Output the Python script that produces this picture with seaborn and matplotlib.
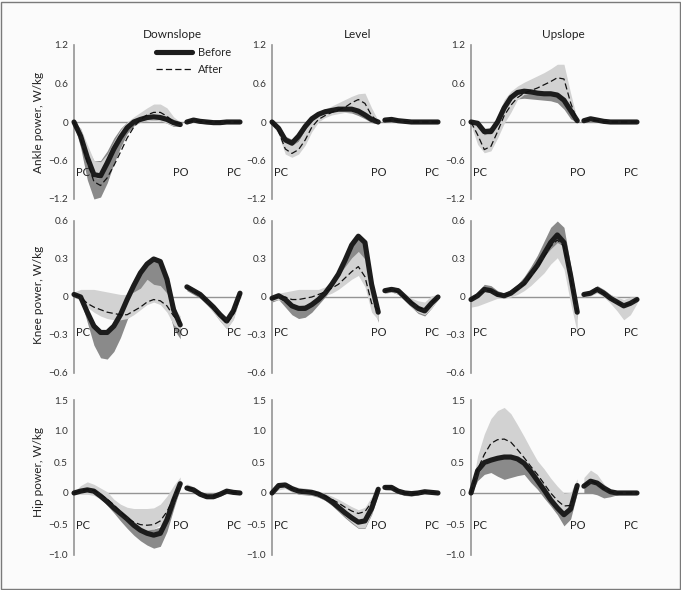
import matplotlib
matplotlib.use("Agg")
import matplotlib.pyplot as plt
from matplotlib.lines import Line2D
from matplotlib.patches import Rectangle
import seaborn as sns

# gait cycle (% of stride): stance up to push-off, then swing
stance_pct = [0, 4, 8, 12, 16, 20, 24, 28, 32, 36, 40, 44, 48, 52, 56, 60, 64]
swing_pct = [68, 72, 76, 80, 84, 88, 92, 96, 100]

slopes = ["Downslope", "Level", "Upslope"]
joints = ["Ankle power, W/kg", "Knee power, W/kg", "Hip power, W/kg"]

# --- ankle ---
ankle_down_before = [0.0, -0.22, -0.55, -0.82, -0.84, -0.64, -0.42, -0.24, -0.09, 0.0, 0.04, 0.07, 0.08, 0.07, 0.04, -0.01, -0.04,
                     0.0, 0.03, 0.01, 0.0, -0.01, -0.01, 0.0, 0.0, 0.0]
ankle_down_before_lo = [-0.02, -0.4, -0.9, -1.2, -1.17, -0.95, -0.65, -0.4, -0.18, -0.06, 0.0, 0.02, 0.03, 0.02, -0.02, -0.07, -0.07,
                        -0.03, 0.0, -0.02, -0.03, -0.03, -0.03, -0.02, -0.02, -0.02]
ankle_down_before_hi = [0.0, -0.1, -0.4, -0.6, -0.6, -0.45, -0.25, -0.1, 0.0, 0.05, 0.08, 0.1, 0.1, 0.1, 0.07, 0.02, -0.02,
                        0.02, 0.05, 0.03, 0.02, 0.01, 0.01, 0.01, 0.01, 0.01]
ankle_down_after = [0.0, -0.25, -0.62, -0.93, -0.99, -0.87, -0.68, -0.47, -0.25, -0.08, 0.04, 0.11, 0.15, 0.15, 0.09, 0.0, -0.03,
                    0.0, 0.02, 0.01, 0.0, 0.0, 0.0, 0.0, 0.0, 0.0]
ankle_down_after_lo = [-0.02, -0.25, -0.58, -0.86, -0.88, -0.68, -0.46, -0.28, -0.12, -0.03, 0.0, 0.02, 0.03, 0.02, -0.02, -0.06, -0.06,
                       -0.02, 0.0, -0.01, -0.02, -0.02, -0.02, -0.01, -0.01, -0.01]
ankle_down_after_hi = [0.0, -0.1, -0.35, -0.6, -0.62, -0.5, -0.3, -0.12, 0.0, 0.08, 0.15, 0.22, 0.28, 0.28, 0.22, 0.08, 0.0,
                       0.02, 0.04, 0.03, 0.02, 0.01, 0.01, 0.01, 0.01, 0.01]

ankle_level_before = [0.0, -0.1, -0.28, -0.33, -0.22, -0.07, 0.05, 0.12, 0.16, 0.18, 0.2, 0.2, 0.2, 0.17, 0.11, 0.04, 0.0,
                      0.03, 0.04, 0.02, 0.01, 0.0, 0.0, 0.0, 0.0, 0.0]
ankle_level_before_lo = [-0.02, -0.15, -0.35, -0.42, -0.3, -0.13, 0.0, 0.08, 0.12, 0.14, 0.15, 0.15, 0.14, 0.1, 0.05, -0.01, -0.03,
                         0.0, 0.01, 0.0, -0.01, -0.02, -0.02, -0.01, -0.01, -0.01]
ankle_level_before_hi = [0.0, -0.05, -0.22, -0.27, -0.16, -0.02, 0.08, 0.15, 0.19, 0.21, 0.23, 0.23, 0.23, 0.2, 0.14, 0.06, 0.01,
                         0.05, 0.06, 0.04, 0.03, 0.02, 0.01, 0.01, 0.01, 0.01]
ankle_level_after = [0.0, -0.15, -0.42, -0.49, -0.43, -0.28, -0.08, 0.04, 0.1, 0.15, 0.19, 0.23, 0.3, 0.35, 0.29, 0.1, 0.0,
                     0.02, 0.03, 0.02, 0.01, 0.0, 0.0, 0.0, 0.0, 0.0]
ankle_level_after_lo = [-0.02, -0.2, -0.5, -0.55, -0.5, -0.36, -0.15, 0.0, 0.07, 0.11, 0.13, 0.15, 0.16, 0.15, 0.1, 0.0, -0.02,
                        0.0, 0.01, 0.0, -0.01, -0.02, -0.02, -0.01, -0.01, -0.01]
ankle_level_after_hi = [0.0, -0.05, -0.3, -0.36, -0.3, -0.12, 0.05, 0.13, 0.2, 0.25, 0.3, 0.35, 0.4, 0.44, 0.45, 0.22, 0.02,
                        0.05, 0.06, 0.04, 0.03, 0.02, 0.01, 0.01, 0.01, 0.01]

ankle_up_before = [0.0, -0.02, -0.15, -0.15, 0.0, 0.22, 0.38, 0.46, 0.48, 0.47, 0.45, 0.44, 0.44, 0.42, 0.34, 0.18, 0.02,
                   0.02, 0.05, 0.03, 0.01, 0.0, 0.0, 0.0, 0.0, 0.0]
ankle_up_before_lo = [-0.02, -0.08, -0.25, -0.25, -0.08, 0.15, 0.3, 0.36, 0.37, 0.36, 0.35, 0.34, 0.33, 0.3, 0.2, 0.05, -0.01,
                      0.0, 0.02, 0.0, -0.01, -0.02, -0.02, -0.01, -0.01, -0.01]
ankle_up_before_hi = [0.0, 0.0, -0.1, -0.08, 0.06, 0.25, 0.4, 0.48, 0.5, 0.5, 0.48, 0.47, 0.47, 0.45, 0.38, 0.22, 0.04,
                      0.04, 0.07, 0.05, 0.03, 0.02, 0.01, 0.01, 0.01, 0.01]
ankle_up_after = [0.0, -0.2, -0.43, -0.38, -0.15, 0.1, 0.26, 0.38, 0.45, 0.49, 0.53, 0.58, 0.63, 0.69, 0.67, 0.3, 0.02,
                  0.02, 0.04, 0.02, 0.01, 0.0, 0.0, 0.0, 0.0, 0.0]
ankle_up_after_lo = [-0.05, -0.35, -0.48, -0.45, -0.25, -0.02, 0.15, 0.35, 0.43, 0.45, 0.45, 0.44, 0.44, 0.42, 0.34, 0.12, 0.0,
                     0.0, 0.02, 0.0, -0.01, -0.02, -0.02, -0.01, -0.01, -0.01]
ankle_up_after_hi = [0.0, -0.05, -0.2, -0.15, 0.1, 0.35, 0.48, 0.56, 0.62, 0.67, 0.72, 0.77, 0.83, 0.9, 0.9, 0.45, 0.04,
                     0.04, 0.07, 0.05, 0.03, 0.02, 0.01, 0.01, 0.01, 0.01]

# --- knee ---
knee_down_before = [0.02, 0.0, -0.12, -0.23, -0.28, -0.28, -0.23, -0.14, -0.02, 0.09, 0.19, 0.26, 0.3, 0.28, 0.14, -0.1, -0.22,
                    0.08, 0.05, 0.02, -0.03, -0.08, -0.14, -0.19, -0.11, 0.03]
knee_down_before_lo = [0.0, -0.02, -0.2, -0.38, -0.48, -0.49, -0.43, -0.32, -0.18, -0.05, 0.03, 0.08, 0.08, 0.05, -0.05, -0.25, -0.33,
                       0.05, 0.02, -0.01, -0.06, -0.12, -0.19, -0.25, -0.17, 0.0]
knee_down_before_hi = [0.03, 0.02, -0.1, -0.2, -0.26, -0.26, -0.2, -0.1, 0.02, 0.12, 0.22, 0.29, 0.32, 0.3, 0.17, -0.06, -0.18,
                       0.1, 0.07, 0.04, -0.01, -0.06, -0.12, -0.17, -0.09, 0.05]
knee_down_after = [0.02, 0.0, -0.05, -0.08, -0.1, -0.12, -0.13, -0.14, -0.14, -0.11, -0.08, -0.04, -0.02, -0.03, -0.07, -0.15, -0.2,
                   0.08, 0.05, 0.02, -0.03, -0.09, -0.15, -0.21, -0.14, 0.02]
knee_down_after_lo = [0.0, -0.03, -0.08, -0.12, -0.15, -0.17, -0.18, -0.18, -0.17, -0.14, -0.1, -0.06, -0.04, -0.06, -0.12, -0.22, -0.26,
                      0.06, 0.03, 0.0, -0.06, -0.12, -0.19, -0.25, -0.18, 0.0]
knee_down_after_hi = [0.04, 0.06, 0.06, 0.06, 0.05, 0.04, 0.03, 0.02, 0.02, 0.04, 0.07, 0.14, 0.1, 0.09, 0.03, -0.08, -0.15,
                      0.1, 0.07, 0.04, -0.01, -0.06, -0.11, -0.16, -0.08, 0.05]

knee_level_before = [-0.01, 0.01, -0.02, -0.07, -0.09, -0.09, -0.06, -0.02, 0.03, 0.1, 0.18, 0.29, 0.41, 0.48, 0.43, 0.1, -0.12,
                     0.05, 0.06, 0.05, 0.0, -0.05, -0.09, -0.11, -0.05, 0.0]
knee_level_before_lo = [-0.04, -0.02, -0.08, -0.14, -0.17, -0.16, -0.12, -0.06, 0.0, 0.06, 0.13, 0.2, 0.28, 0.32, 0.3, -0.02, -0.2,
                        0.03, 0.04, 0.02, -0.03, -0.08, -0.13, -0.15, -0.09, -0.02]
knee_level_before_hi = [0.0, 0.02, 0.0, -0.04, -0.06, -0.06, -0.03, 0.01, 0.06, 0.13, 0.22, 0.33, 0.45, 0.5, 0.45, 0.14, -0.08,
                        0.07, 0.08, 0.07, 0.02, -0.03, -0.07, -0.08, -0.03, 0.01]
knee_level_after = [-0.01, 0.0, 0.0, -0.02, -0.02, -0.01, 0.0, 0.02, 0.04, 0.07, 0.1, 0.15, 0.2, 0.24, 0.16, -0.05, -0.1,
                    0.05, 0.06, 0.04, 0.0, -0.04, -0.08, -0.1, -0.05, 0.0]
knee_level_after_lo = [-0.03, -0.02, -0.04, -0.06, -0.07, -0.06, -0.04, -0.01, 0.01, 0.03, 0.06, 0.1, 0.14, 0.17, 0.08, -0.12, -0.18,
                       0.03, 0.04, 0.02, -0.03, -0.08, -0.12, -0.14, -0.09, -0.02]
knee_level_after_hi = [0.01, 0.03, 0.04, 0.05, 0.06, 0.06, 0.06, 0.06, 0.08, 0.12, 0.17, 0.24, 0.31, 0.36, 0.3, 0.05, -0.06,
                       0.07, 0.08, 0.07, 0.03, -0.01, -0.03, -0.04, 0.01, 0.02]

knee_up_before = [-0.02, 0.01, 0.06, 0.05, 0.02, 0.01, 0.03, 0.07, 0.11, 0.18, 0.25, 0.34, 0.43, 0.49, 0.43, 0.17, -0.12,
                  0.02, 0.03, 0.06, 0.03, -0.01, -0.04, -0.07, -0.05, -0.02]
knee_up_before_lo = [-0.05, -0.02, 0.02, 0.02, 0.0, -0.01, 0.01, 0.04, 0.08, 0.14, 0.2, 0.28, 0.36, 0.42, 0.35, 0.1, -0.18,
                     0.0, 0.01, 0.04, 0.01, -0.03, -0.07, -0.1, -0.08, -0.04]
knee_up_before_hi = [0.0, 0.04, 0.1, 0.09, 0.05, 0.03, 0.06, 0.1, 0.16, 0.24, 0.33, 0.44, 0.55, 0.6, 0.55, 0.25, -0.05,
                     0.04, 0.05, 0.09, 0.06, 0.02, -0.01, -0.03, -0.02, 0.0]
knee_up_after = [-0.02, 0.02, 0.05, 0.05, 0.02, 0.01, 0.03, 0.06, 0.1, 0.16, 0.23, 0.32, 0.4, 0.45, 0.4, 0.15, -0.12,
                 0.02, 0.03, 0.06, 0.03, -0.01, -0.04, -0.07, -0.05, -0.02]
knee_up_after_lo = [-0.08, -0.07, -0.05, -0.03, -0.01, -0.01, 0.0, 0.02, 0.05, 0.09, 0.14, 0.19, 0.26, 0.31, 0.22, -0.05, -0.28,
                    0.0, 0.01, 0.03, 0.0, -0.05, -0.11, -0.18, -0.14, -0.05]
knee_up_after_hi = [0.0, 0.04, 0.08, 0.07, 0.04, 0.03, 0.05, 0.09, 0.13, 0.18, 0.25, 0.32, 0.38, 0.43, 0.4, 0.16, -0.06,
                    0.04, 0.05, 0.08, 0.05, 0.02, 0.0, -0.02, 0.0, 0.0]

# --- hip ---
hip_down_before = [0.0, 0.03, 0.05, 0.03, -0.05, -0.14, -0.24, -0.33, -0.42, -0.52, -0.6, -0.65, -0.68, -0.65, -0.43, -0.12, 0.15,
                   0.08, 0.05, -0.02, -0.06, -0.06, -0.02, 0.03, 0.01, 0.0]
hip_down_before_lo = [-0.02, 0.0, 0.02, -0.01, -0.09, -0.2, -0.32, -0.45, -0.57, -0.68, -0.77, -0.84, -0.89, -0.86, -0.62, -0.26, 0.08,
                      0.04, 0.01, -0.05, -0.09, -0.09, -0.05, 0.0, -0.01, -0.02]
hip_down_before_hi = [0.02, 0.05, 0.07, 0.05, -0.02, -0.1, -0.2, -0.28, -0.36, -0.45, -0.52, -0.56, -0.58, -0.55, -0.35, -0.05, 0.2,
                      0.11, 0.08, 0.01, -0.03, -0.03, 0.01, 0.05, 0.03, 0.02]
hip_down_after = [0.0, 0.04, 0.06, 0.04, -0.02, -0.1, -0.19, -0.3, -0.4, -0.47, -0.51, -0.52, -0.51, -0.45, -0.3, -0.08, 0.15,
                  0.1, 0.06, 0.0, -0.05, -0.05, -0.02, 0.03, 0.01, 0.0]
hip_down_after_lo = [-0.02, -0.02, -0.02, -0.04, -0.1, -0.18, -0.26, -0.38, -0.47, -0.55, -0.58, -0.6, -0.58, -0.52, -0.4, -0.2, 0.05,
                     0.05, 0.02, -0.04, -0.08, -0.08, -0.05, 0.0, -0.01, -0.02]
hip_down_after_hi = [0.02, 0.12, 0.18, 0.14, 0.08, 0.02, -0.1, -0.18, -0.23, -0.25, -0.25, -0.25, -0.24, -0.18, -0.05, 0.12, 0.26,
                     0.15, 0.1, 0.03, -0.02, -0.02, 0.02, 0.06, 0.03, 0.02]

hip_level_before = [0.0, 0.12, 0.13, 0.07, 0.03, 0.02, 0.01, -0.02, -0.07, -0.14, -0.23, -0.32, -0.4, -0.47, -0.45, -0.25, 0.06,
                    0.09, 0.09, 0.03, 0.0, -0.01, 0.0, 0.02, 0.01, 0.0]
hip_level_before_lo = [-0.02, 0.07, 0.08, 0.02, -0.02, -0.03, -0.04, -0.07, -0.12, -0.2, -0.3, -0.4, -0.49, -0.57, -0.57, -0.35, -0.02,
                       0.05, 0.04, -0.01, -0.04, -0.05, -0.03, 0.0, -0.01, -0.02]
hip_level_before_hi = [0.02, 0.15, 0.16, 0.1, 0.06, 0.05, 0.04, 0.01, -0.04, -0.1, -0.18, -0.26, -0.34, -0.41, -0.39, -0.2, 0.1,
                       0.12, 0.12, 0.06, 0.02, 0.01, 0.02, 0.04, 0.03, 0.02]
hip_level_after = [0.0, 0.11, 0.12, 0.07, 0.04, 0.03, 0.02, 0.0, -0.05, -0.1, -0.16, -0.23, -0.29, -0.33, -0.3, -0.15, 0.06,
                   0.1, 0.09, 0.03, 0.0, -0.01, 0.0, 0.02, 0.01, 0.0]
hip_level_after_lo = [-0.02, 0.05, 0.07, 0.02, -0.01, -0.02, -0.03, -0.06, -0.11, -0.18, -0.28, -0.38, -0.47, -0.56, -0.56, -0.33, 0.0,
                      0.05, 0.05, 0.0, -0.03, -0.04, -0.03, 0.0, -0.01, -0.02]
hip_level_after_hi = [0.02, 0.16, 0.17, 0.12, 0.09, 0.08, 0.06, 0.03, -0.01, -0.05, -0.1, -0.16, -0.22, -0.27, -0.23, -0.06, 0.12,
                      0.14, 0.14, 0.07, 0.03, 0.02, 0.03, 0.05, 0.03, 0.02]

hip_up_before = [0.0, 0.36, 0.49, 0.53, 0.56, 0.58, 0.58, 0.55, 0.48, 0.35, 0.2, 0.05, -0.11, -0.24, -0.35, -0.26, 0.12,
                 0.11, 0.19, 0.16, 0.08, 0.02, 0.0, 0.0, 0.0, 0.0]
hip_up_before_lo = [-0.02, 0.2, 0.3, 0.33, 0.27, 0.22, 0.25, 0.28, 0.3, 0.17, 0.06, -0.08, -0.21, -0.35, -0.53, -0.42, 0.0,
                    0.0, 0.0, -0.03, -0.08, -0.06, -0.03, -0.01, -0.01, -0.01]
hip_up_before_hi = [0.02, 0.4, 0.53, 0.56, 0.58, 0.6, 0.6, 0.57, 0.5, 0.38, 0.22, 0.07, -0.08, -0.2, -0.3, -0.22, 0.15,
                    0.14, 0.21, 0.18, 0.1, 0.04, 0.02, 0.01, 0.01, 0.01]
hip_up_after = [0.0, 0.38, 0.62, 0.8, 0.86, 0.87, 0.82, 0.7, 0.57, 0.43, 0.3, 0.15, 0.0, -0.12, -0.21, -0.2, 0.1,
                0.12, 0.2, 0.15, 0.07, 0.02, 0.0, 0.0, 0.0, 0.0]
hip_up_after_lo = [-0.02, 0.3, 0.45, 0.52, 0.55, 0.57, 0.56, 0.52, 0.45, 0.33, 0.17, 0.02, -0.13, -0.25, -0.33, -0.25, 0.0,
                   0.1, 0.17, 0.12, 0.04, 0.0, -0.02, -0.01, -0.01, -0.01]
hip_up_after_hi = [0.02, 0.6, 0.95, 1.2, 1.33, 1.38, 1.28, 1.1, 0.91, 0.71, 0.52, 0.39, 0.24, 0.11, 0.0, 0.01, 0.23,
                   0.25, 0.37, 0.3, 0.15, 0.06, 0.02, 0.01, 0.01, 0.01]

# y-axis ticks per joint row
ankle_ticks = [-1.2, -0.6, 0, 0.6, 1.2]
ankle_ticklabels = ["\u22121.2", "\u22120.6", "0", "0.6", "1.2"]
knee_ticks = [-0.6, -0.3, 0, 0.3, 0.6]
knee_ticklabels = ["\u22120.6", "\u22120.3", "0", "0.3", "0.6"]
hip_ticks = [-1.0, -0.5, 0, 0.5, 1.0, 1.5]
hip_ticklabels = ["\u22121.0", "\u22120.5", "0", "0.5", "1.0", "1.5"]

panels = [
    [(ankle_down_before, ankle_down_before_lo, ankle_down_before_hi, ankle_down_after, ankle_down_after_lo, ankle_down_after_hi),
     (ankle_level_before, ankle_level_before_lo, ankle_level_before_hi, ankle_level_after, ankle_level_after_lo, ankle_level_after_hi),
     (ankle_up_before, ankle_up_before_lo, ankle_up_before_hi, ankle_up_after, ankle_up_after_lo, ankle_up_after_hi)],
    [(knee_down_before, knee_down_before_lo, knee_down_before_hi, knee_down_after, knee_down_after_lo, knee_down_after_hi),
     (knee_level_before, knee_level_before_lo, knee_level_before_hi, knee_level_after, knee_level_after_lo, knee_level_after_hi),
     (knee_up_before, knee_up_before_lo, knee_up_before_hi, knee_up_after, knee_up_after_lo, knee_up_after_hi)],
    [(hip_down_before, hip_down_before_lo, hip_down_before_hi, hip_down_after, hip_down_after_lo, hip_down_after_hi),
     (hip_level_before, hip_level_before_lo, hip_level_before_hi, hip_level_after, hip_level_after_lo, hip_level_after_hi),
     (hip_up_before, hip_up_before_lo, hip_up_before_hi, hip_up_after, hip_up_after_lo, hip_up_after_hi)],
]
row_ticks = [(ankle_ticks, ankle_ticklabels), (knee_ticks, knee_ticklabels), (hip_ticks, hip_ticklabels)]

DARK = "#8a8a8a"
LIGHT = "#d2d2d2"
AXIS_GREY = "#949494"
THICK = 3.7

sns.set_theme(style="white")
plt.rcParams["font.family"] = ["Lato", "DejaVu Sans"]

W, H = 681, 590
fig = plt.figure(figsize=(W / 100, H / 100), dpi=100, facecolor="#fbfbfb")

# panel layout in pixels
col_left = [74, 272, 471]
col_width = 166
row_span = [(45, 199), (221, 373), (400, 555)]
pc_label_y = [-0.79, -0.28, -0.52]

n_st = len(stance_pct)

for r in range(3):
    top, bot = row_span[r]
    ticks, ticklabels = row_ticks[r]
    for c in range(3):
        ax = fig.add_axes([col_left[c] / W, 1 - bot / H, col_width / W, (bot - top) / H])
        ax.set_facecolor("none")
        before, b_lo, b_hi, after, a_lo, a_hi = panels[r][c]

        for seg, xs in ((slice(0, n_st), stance_pct), (slice(n_st, None), swing_pct)):
            ax.fill_between(xs, b_lo[seg], b_hi[seg], color=DARK, lw=0, zorder=1)
            ax.fill_between(xs, a_lo[seg], a_hi[seg], color=LIGHT, lw=0, zorder=1.5)
            sns.lineplot(x=xs, y=before[seg], ax=ax, color="#1c1c1c", lw=THICK, zorder=3,
                         legend=False, clip_on=False, solid_capstyle="round", solid_joinstyle="round")
            sns.lineplot(x=xs, y=after[seg], ax=ax, color="#111111", lw=0.9, zorder=4,
                         legend=False, clip_on=False, linestyle=(0, (5, 2.5)))

        ax.set_xlim(0, 100)
        ax.set_ylim(ticks[0], ticks[-1])
        ax.set_yticks(ticks)
        ax.set_yticklabels(ticklabels)
        ax.set_xticks([33.3, 66.7, 100])
        ax.set_xlabel("")
        ax.set_ylabel("")
        ax.tick_params(axis="x", direction="in", length=3, width=0.8, color=AXIS_GREY, labelbottom=False)
        ax.tick_params(axis="y", direction="out", length=3, width=0.8, color=AXIS_GREY,
                       labelsize=7.2, labelcolor="#333333", pad=1.2)
        for s in ("top", "right"):
            ax.spines[s].set_visible(False)
        ax.spines["left"].set_color(AXIS_GREY)
        ax.spines["left"].set_linewidth(1.2)
        ax.spines["bottom"].set_position(("data", 0))
        ax.spines["bottom"].set_color(AXIS_GREY)
        ax.spines["bottom"].set_linewidth(1.0)
        ax.spines["bottom"].set_zorder(0.5)

        ly = pc_label_y[r]
        ax.text(1, ly, "PC", ha="left", va="center", fontsize=8, color="#222222", zorder=2.5)
        ax.text(64.5, ly, "PO", ha="center", va="center", fontsize=8, color="#222222", zorder=2.5)
        ax.text(96.5, ly, "PC", ha="center", va="center", fontsize=8, color="#222222", zorder=2.5)

        if r == 0 and c == 0:
            handles = [Line2D([], [], color="#1c1c1c", lw=THICK),
                       Line2D([], [], color="#111111", lw=0.9, linestyle=(0, (5, 2.5)))]
            ax.legend(handles, ["Before", "After"], loc="upper left",
                      bbox_to_anchor=(156 / W, 1 - 47 / H), bbox_transform=fig.transFigure,
                      frameon=False, fontsize=8, handlelength=3.2, handletextpad=0.6,
                      labelspacing=0.55, borderpad=0, borderaxespad=0)

# column titles and row labels
for title, x in zip(slopes, [172, 358, 563]):
    fig.text(x / W, 1 - 35 / H, title, ha="center", va="center", fontsize=8.5, color="#222222")
for label, y in zip(joints, [122, 295, 472]):
    fig.text(39 / W, 1 - y / H, label, ha="center", va="center", rotation=90, fontsize=8.5, color="#222222")

fig.patches.append(Rectangle((0.002, 0.002), 0.996, 0.995, transform=fig.transFigure,
                             fill=False, edgecolor="#7a7a7a", lw=1.0))

fig.savefig("out.png", dpi=100, facecolor=fig.get_facecolor())
